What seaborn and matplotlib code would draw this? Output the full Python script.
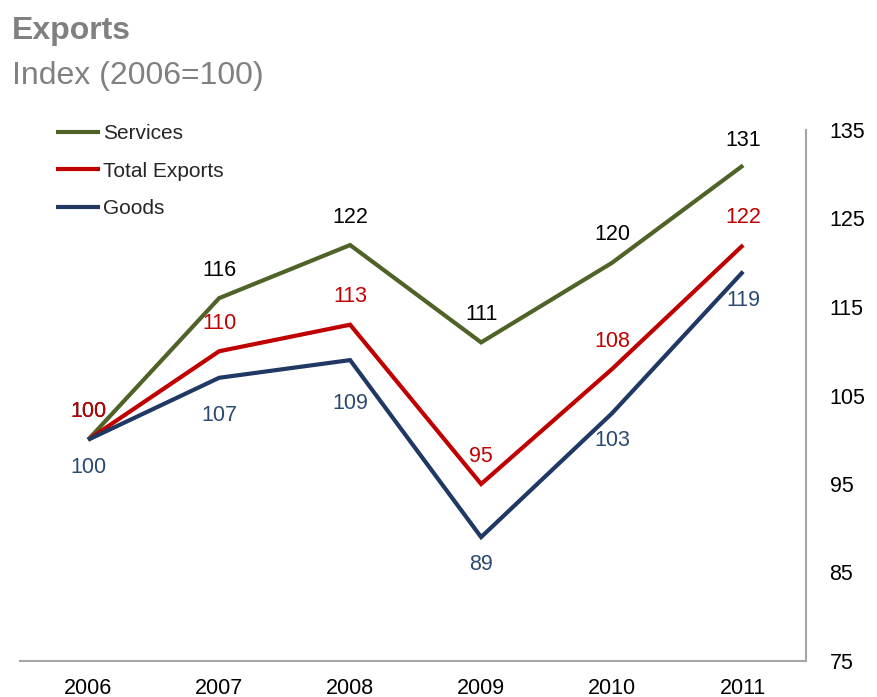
import matplotlib
matplotlib.use("Agg")
import matplotlib.pyplot as plt
import seaborn as sns
import pandas as pd

# Export index values (2006 = 100)
years = [2006, 2007, 2008, 2009, 2010, 2011]
services = [100, 116, 122, 111, 120, 131]
total_exports = [100, 110, 113, 95, 108, 122]
goods = [100, 107, 109, 89, 103, 119]
y_ticks = [75, 85, 95, 105, 115, 125, 135]

series_names = ["Services", "Total Exports", "Goods"]
line_colors = {"Services": "#4f6228", "Total Exports": "#c00000", "Goods": "#1f3864"}
label_colors = {"Services": "#000000", "Total Exports": "#c00000", "Goods": "#2b4a72"}
# vertical label offsets in points, one per year
label_offsets = {
    "Services": [20, 20, 20, 20, 20, 18],
    "Total Exports": [20, 20, 20, 20, 20, 20],
    "Goods": [-20, -27, -31, -20, -20, -21],
}

df = pd.DataFrame({
    "year": years * 3,
    "value": services + total_exports + goods,
    "series": sum([[n] * len(years) for n in series_names], []),
})

sns.set_theme(style="white")
plt.rcParams["font.family"] = ["Liberation Sans", "DejaVu Sans"]

fig = plt.figure(figsize=(8.77, 6.97), dpi=100)
ax = fig.add_axes([20 / 877, 36 / 697, 786 / 877, 531 / 697])

sns.lineplot(data=df, x="year", y="value", hue="series", hue_order=series_names,
             palette=line_colors, linewidth=3.0, ax=ax, sort=False,
             solid_capstyle="butt", solid_joinstyle="miter")

# Value labels
for name in series_names:
    sub = df[df["series"] == name]
    for i, (x, v) in enumerate(zip(sub["year"], sub["value"])):
        ax.annotate(f"{v:.0f}", (x, v), xytext=(0, label_offsets[name][i]),
                    textcoords="offset points", ha="center", va="center",
                    fontsize=15.5, color=label_colors[name],
                    zorder=5 if name == "Total Exports" else 4)

ax.set_xlim(years[0] - 0.52, years[-1] + 0.48)
ax.set_ylim(y_ticks[0], y_ticks[-1])
ax.set_xticks(years)
ax.set_xticklabels([str(y) for y in years])
ax.set_yticks(y_ticks)
ax.yaxis.tick_right()
for lbl in ax.get_yticklabels():
    lbl.set_horizontalalignment("left")
ax.tick_params(axis="y", length=0, pad=17, labelsize=15.5, labelcolor="black")
ax.tick_params(axis="x", length=0, pad=12, labelsize=15.5, labelcolor="black")
ax.set_xlabel("")
ax.set_ylabel("")

for side in ["top", "left"]:
    ax.spines[side].set_visible(False)
for side in ["bottom", "right"]:
    ax.spines[side].set_visible(True)
    ax.spines[side].set_color("#a6a6a6")
    ax.spines[side].set_linewidth(1.5)

handles, labels = ax.get_legend_handles_labels()
leg = ax.legend(handles, labels, loc="upper left", bbox_to_anchor=(0.035, 1.027),
                frameon=False, fontsize=15, handlelength=2.1, handletextpad=0.15,
                labelspacing=0.9, borderaxespad=0)
for h in leg.get_lines():
    h.set_linewidth(3.0)

fig.text(12 / 877, 1 - 31 / 697, "Exports", fontsize=23, fontweight="bold",
         color="#808080", ha="left", va="center")
fig.text(12 / 877, 1 - 76 / 697, "Index (2006=100)", fontsize=23,
         color="#808080", ha="left", va="center")

fig.savefig("out.png", dpi=100)
